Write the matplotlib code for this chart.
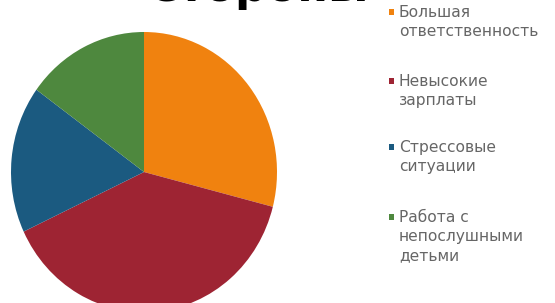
import matplotlib
matplotlib.use("Agg")
import matplotlib.pyplot as plt
from matplotlib.patches import Rectangle

title = "Стороны"
categories = [
    ["Большая", "ответственность"],
    ["Невысокие", "зарплаты"],
    ["Стрессовые", "ситуации"],
    ["Работа с", "непослушными", "детьми"],
]
values = [29, 39, 17, 15]
colors = ["#F0820F", "#9E2433", "#1B5A80", "#4E883E"]

W, H = 555, 303
fig = plt.figure(figsize=(W / 100, H / 100), dpi=100)
fig.patch.set_facecolor("white")

# pie axes (slightly stretched vertically as in the reference)
cx, cy, rx, ry = 144, 172, 133, 140
ax = fig.add_axes([(cx - rx) / W, (H - cy - ry) / H, 2 * rx / W, 2 * ry / H])
ax.pie(values, colors=colors, startangle=90, counterclock=False,
       wedgeprops=dict(linewidth=0))
ax.set_aspect("auto")
ax.set_xlim(-1, 1)
ax.set_ylim(-1, 1)
ax.axis("off")

# title (cut off at the top of the picture, as in the reference)
fig.text(258 / W, 1 - 1 / H, title, fontsize=32, fontweight="bold",
         color="black", ha="center", va="baseline", family="DejaVu Sans")

# legend, drawn by hand so markers align with the first line
first_centres = [12, 81, 147, 217]
line_gap = 19
for lines, col, yc in zip(categories, colors, first_centres):
    fig.add_artist(Rectangle((389 / W, 1 - (yc + 3) / H), 5 / W, 6 / H,
                             transform=fig.transFigure, color=col, lw=0))
    for i, ln in enumerate(lines):
        yb = yc + 5 + i * line_gap
        fig.text(399 / W, 1 - yb / H, ln, fontsize=11.2, color="#666666",
                 ha="left", va="baseline", family="DejaVu Sans")

fig.savefig("out.png", dpi=100, facecolor="white")
